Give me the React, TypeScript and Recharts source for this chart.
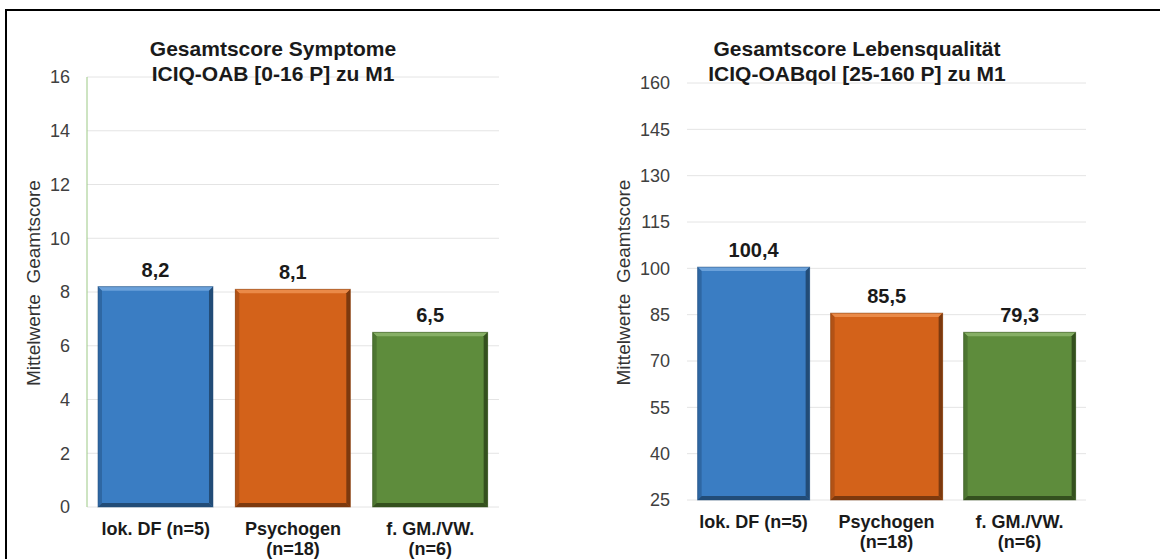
import React from "react";
import { BarChart, Bar, XAxis, YAxis, CartesianGrid, Cell, LabelList } from "recharts";

const groups = ["lok. DF (n=5)", "Psychogen\n(n=18)", "f. GM./VW.\n(n=6)"];
const symptomScores = [8.2, 8.1, 6.5];
const qolScores = [100.4, 85.5, 79.3];
const symptomTicks = [0, 2, 4, 6, 8, 10, 12, 14, 16];
const qolTicks = [25, 40, 55, 70, 85, 100, 115, 130, 145, 160];

const FONT = '"Liberation Sans", Arial, sans-serif';

// base / top highlight / right+bottom shadow / left edge
const palette = [
  { base: "#3A7DC3", light: "#6AA1DA", dark: "#224C77", side: "#2E67A3" },
  { base: "#D3621A", light: "#EA8A48", dark: "#7C390E", side: "#B25216" },
  { base: "#5E8C3C", light: "#86AF65", dark: "#34501E", side: "#4D7631" },
];

const symptomRows = groups.map((g, i) => ({ group: g, value: symptomScores[i] }));
const qolRows = groups.map((g, i) => ({ group: g, value: qolScores[i] }));

// bevelled bar, lit from the top
const BevelBar = (props: any) => {
  const { x, y, width: w, height: h, index } = props;
  if (!w || !h) return null;
  const c = palette[index % palette.length];
  const b = 4;
  return (
    <g>
      <rect x={x} y={y} width={w} height={h} fill={c.base} />
      <polygon points={`${x},${y} ${x + w},${y} ${x + w - b},${y + b} ${x + b},${y + b}`} fill={c.light} />
      <polygon points={`${x},${y} ${x + b},${y + b} ${x + b},${y + h - b} ${x},${y + h}`} fill={c.side} />
      <polygon points={`${x + w},${y} ${x + w},${y + h} ${x + w - b},${y + h - b} ${x + w - b},${y + b}`} fill={c.dark} />
      <polygon points={`${x},${y + h} ${x + w},${y + h} ${x + w - b},${y + h - b} ${x + b},${y + h - b}`} fill={c.dark} />
      <rect x={x} y={y} width={w} height={h} fill="none" stroke={c.dark} strokeOpacity={0.5} strokeWidth={1} />
    </g>
  );
};

const GroupTick = (props: any) => {
  const { x, y, payload } = props;
  const lines = String(payload.value).split("\n");
  return (
    <text x={x} y={y} textAnchor="middle" fontFamily={FONT} fontSize={18} fontWeight="bold" fill="#1a1a1a">
      {lines.map((l, i) => (
        <tspan key={i} x={x} dy={i === 0 ? 20 : 20}>
          {l}
        </tspan>
      ))}
    </text>
  );
};

const axisTitle = (shift: number) => (props: any) => {
  const vb = props.viewBox;
  const cx = vb.x + shift;
  const cy = vb.y + vb.height / 2 - 9;
  return (
    <text
      x={cx}
      y={cy}
      transform={`rotate(-90 ${cx} ${cy})`}
      textAnchor="middle"
      dominantBaseline="central"
      fontFamily={FONT}
      fontSize={19}
      fill="#333"
      style={{ whiteSpace: "pre" }}
    >
      {"Mittelwerte  Geamtscore"}
    </text>
  );
};

const fmt = (v: any) => String(v).replace(".", ",");

const Title = ({ lines, center }: { lines: string[]; center: number }) => (
  <div
    style={{
      position: "absolute",
      left: center - 200,
      top: 36,
      width: 400,
      textAlign: "center",
      fontFamily: FONT,
      fontWeight: "bold",
      fontSize: 21,
      lineHeight: "25px",
      color: "#1a1a1a",
    }}
  >
    {lines.map((l) => (
      <div key={l}>{l}</div>
    ))}
  </div>
);

export default function App() {
  return (
    <div style={{ position: "fixed", left: 0, top: 0, width: 1160, height: 559, background: "#fff", overflow: "hidden" }}>
      <div
        style={{
          position: "absolute",
          left: 5,
          top: 9,
          right: -10,
          bottom: -10,
          borderTop: "2px solid #000",
          borderLeft: "2px solid #000",
        }}
      />

      <div style={{ position: "absolute", left: 0, top: 0 }}>
        <BarChart
          width={580}
          height={559}
          data={symptomRows}
          margin={{ top: 77, right: 81, bottom: 2, left: 47 }}
          barCategoryGap="8%"
        >
          <CartesianGrid vertical={false} stroke="#e4e4e4" />
          <XAxis dataKey="group" axisLine={false} tickLine={false} tick={<GroupTick />} height={50} interval={0} />
          <YAxis
            width={40}
            domain={[0, 16]}
            ticks={symptomTicks}
            interval={0}
            tickLine={false}
            tickMargin={11}
            axisLine={{ stroke: "#9cc985" }}
            tick={{ fontFamily: FONT, fontSize: 18, fill: "#404040" }}
            label={{ content: axisTitle(-14) }}
          />
          <Bar dataKey="value" shape={BevelBar} isAnimationActive={false}>
            {symptomRows.map((r, i) => (
              <Cell key={r.group} fill={palette[i].base} />
            ))}
            <LabelList
              dataKey="value"
              position="top"
              offset={10}
              formatter={fmt}
              style={{ fontFamily: FONT, fontSize: 20, fontWeight: "bold", fill: "#1a1a1a" }}
            />
          </Bar>
        </BarChart>
      </div>

      <div style={{ position: "absolute", left: 580, top: 0 }}>
        <BarChart
          width={580}
          height={559}
          data={qolRows}
          margin={{ top: 83, right: 74, bottom: 4, left: 57 }}
          barCategoryGap="8%"
        >
          <CartesianGrid vertical={false} stroke="#e4e4e4" />
          <XAxis dataKey="group" axisLine={false} tickLine={false} tick={<GroupTick />} height={55} interval={0} />
          <YAxis
            width={50}
            domain={[25, 160]}
            ticks={qolTicks}
            interval={0}
            tickLine={false}
            tickMargin={11}
            axisLine={false}
            tick={{ fontFamily: FONT, fontSize: 18, fill: "#404040" }}
            label={{ content: axisTitle(-14) }}
          />
          <Bar dataKey="value" shape={BevelBar} isAnimationActive={false}>
            {qolRows.map((r, i) => (
              <Cell key={r.group} fill={palette[i].base} />
            ))}
            <LabelList
              dataKey="value"
              position="top"
              offset={10}
              formatter={fmt}
              style={{ fontFamily: FONT, fontSize: 20, fontWeight: "bold", fill: "#1a1a1a" }}
            />
          </Bar>
        </BarChart>
      </div>

      <Title lines={["Gesamtscore Symptome", "ICIQ-OAB [0-16 P] zu M1"]} center={273} />
      <Title lines={["Gesamtscore Lebensqualität", "ICIQ-OABqol [25-160 P] zu M1"]} center={857} />
    </div>
  );
}
